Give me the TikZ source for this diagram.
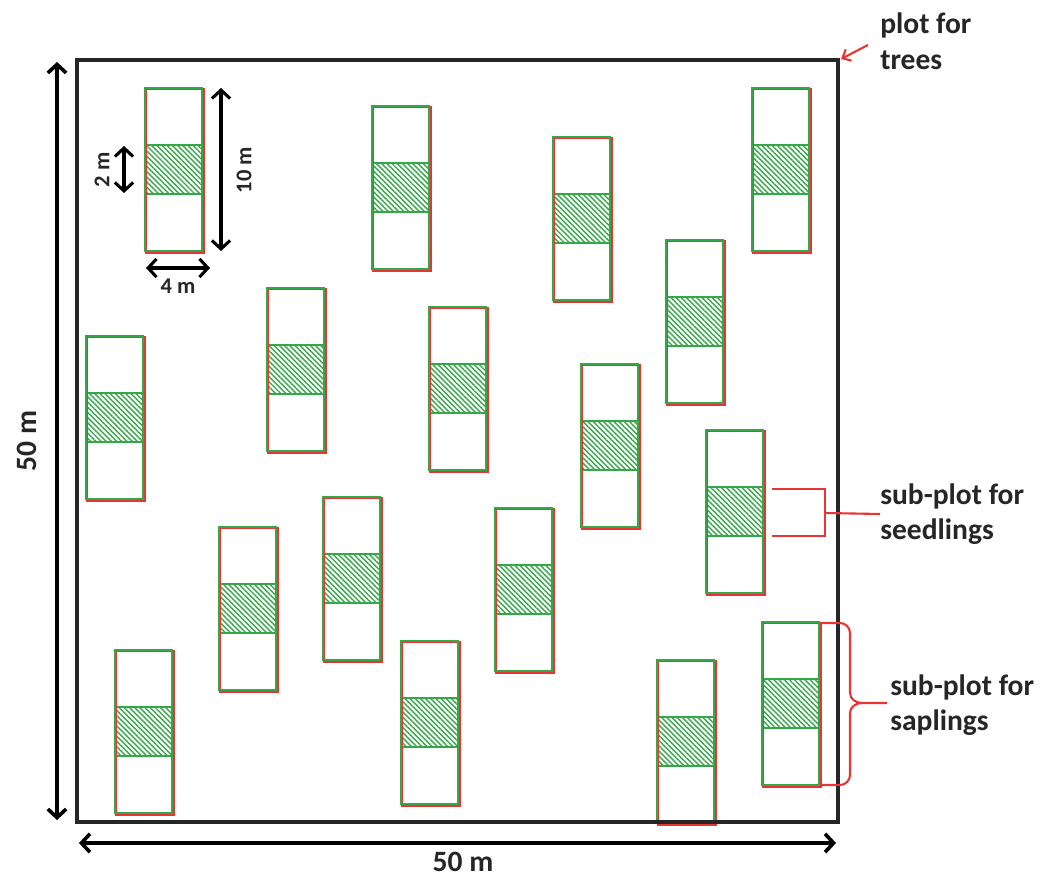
\documentclass[tikz,border=0pt]{standalone}
\usepackage{fontspec}
\setmainfont{Carlito}
\usetikzlibrary{arrows.meta, patterns.meta, calc}

\begin{document}
\begin{tikzpicture}[x=0.025cm, y=-0.025cm,
    dimarrow/.style={line width=2.6pt, {Straight Barb[length=6pt,width=13pt]}-{Straight Barb[length=6pt,width=13pt]}},
    bigtext/.style={font=\bfseries\fontsize{21}{25}\selectfont, text=black!85},
    smalltext/.style={font=\bfseries\fontsize{16}{18}\selectfont, text=black!85},
    callout/.style={draw=plotred, line width=1.5pt}]

% ── Colour palette ──────────────────────────────────────────
\definecolor{plotred}{RGB}{232,52,52}
\definecolor{plotgreen}{RGB}{52,168,72}

\useasboundingbox (0,0) rectangle (1040,878);

% ── Main plot (trees) ───────────────────────────────────────
\coordinate (plotNW) at (77,60);
\coordinate (plotNE) at (838,60);
\coordinate (plotSW) at (77,822);
\coordinate (plotSE) at (838,822);

% ── Sub-plots (10 m x 4 m, with 2 m seedling band) ──────────
\foreach \px/\py in {145/88, 372/106, 553/137, 752/88, 666/240, 267/288,
                     429/307, 86/336, 581/364, 706/430, 219/527, 323/497,
                     495/508, 115/650, 401/641, 657/660, 762/622} {
  \fill[white] (\px,\py) rectangle ++(58,164);
  \fill[pattern={Lines[angle=-45, distance=2.6pt, line width=1pt]}, pattern color=plotgreen]
    (\px,\py+57) rectangle ++(58,49);
  \draw[plotgreen, line width=1pt] (\px,\py+57) -- ++(58,0) (\px,\py+106) -- ++(58,0);
  \draw[plotred, line width=1pt] (\px+1,\py+1) rectangle ++(58,164);
  \draw[plotgreen, line width=1.4pt] (\px,\py) rectangle ++(57,163);
}

\draw[black!85, line width=2.8pt] (plotNW) rectangle (plotSE);

% ── Dimensions of a sub-plot ────────────────────────────────
\coordinate (twoTop) at (124,146);
\coordinate (twoBot) at (124,193);
\draw[dimarrow, line width=2.2pt] (twoTop) -- (twoBot);
\node[smalltext, rotate=90] (lblTwo) at (102,170) {2 m};

\coordinate (tenTop) at (221,88);
\coordinate (tenBot) at (221,251);
\draw[dimarrow, line width=2.2pt] (tenTop) -- (tenBot);
\node[smalltext, rotate=90] (lblTen) at (244,170) {10 m};

\coordinate (fourL) at (146,268);
\coordinate (fourR) at (210,268);
\draw[dimarrow, line width=2.2pt] (fourL) -- (fourR);
\node[smalltext] (lblFour) at (178,286) {4 m};

% ── Dimensions of the main plot ─────────────────────────────
\coordinate (sideTop) at (57,62);
\coordinate (sideBot) at (57,820);
\draw[dimarrow] (sideTop) -- (sideBot);
\node[bigtext, rotate=90] (lblSide) at (27,441) {50 m};

\coordinate (baseL) at (79,843);
\coordinate (baseR) at (836,843);
\draw[dimarrow] (baseL) -- (baseR);
\node[bigtext, inner sep=1pt] (lblBase) at (463,862) {50 m};

% ── Callouts ────────────────────────────────────────────────
\node[bigtext, align=left, anchor=north west, inner sep=0pt] (lblTrees) at (880,13)
  {plot for\\trees};
\coordinate (treesTail) at (868,45);
\draw[callout, -{Straight Barb[length=5pt,width=9pt]}] (treesTail) -- ($(plotNE)+(3,-1)$);

\node[bigtext, align=left, anchor=west, inner sep=0pt] (lblSeed) at (880,514)
  {sub-plot for\\seedlings};
\draw[callout] (772,489) -- (825,489) -- (825,536) -- (772,536);
\draw[callout] (825,513) -- (lblSeed.west);

\node[bigtext, align=left, anchor=west, inner sep=0pt] (lblSap) at (890,705)
  {sub-plot for\\saplings};
\coordinate (sapTop) at (821,623);
\coordinate (sapBot) at (821,785);
\coordinate (sapTip) at (887,703);
\draw[callout] (sapTop) -- (840,623) to[out=0,in=90] (850,633) -- (850,693)
  to[out=-90,in=180] (862,703) -- (sapTip);
\draw[callout] (862,703) to[out=180,in=90] (850,713) -- (850,775)
  to[out=-90,in=0] (840,785) -- (sapBot);

\end{tikzpicture}
\end{document}
